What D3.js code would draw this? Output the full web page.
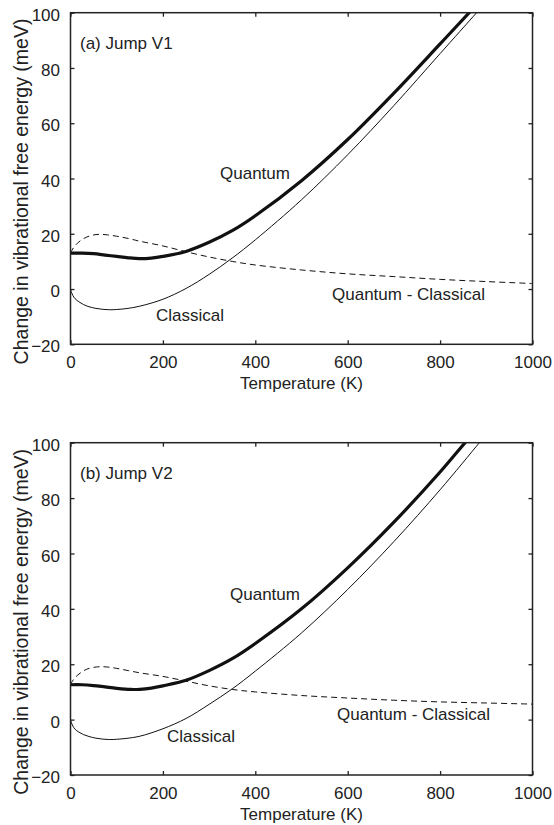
<!DOCTYPE html>
<html>
<head>
<meta charset="utf-8">
<script src="https://cdn.jsdelivr.net/npm/d3@7"></script>
<style>
  body { margin: 0; background: white; }
  text { font-family: "Liberation Sans", Arial, sans-serif; fill: #222; }
</style>
</head>
<body>
<script>
const xTicks = [0, 200, 400, 600, 800, 1000]
const yTicks = [-20, 0, 20, 40, 60, 80, 100]

// panel (a) Jump V1
const tQuantumA = [0, 25, 50, 75, 100, 125, 150, 175, 200, 250, 300, 350, 400, 500, 600, 700, 800, 863, 880]
const quantumA = [13, 13, 12.8, 12.3, 11.8, 11.3, 11, 11.2, 11.8, 13.6, 16.9, 21.1, 26.5, 39.2, 54.1, 70.9, 88.7, 100, 103]
const tClassicalA = [0, 2, 5, 10, 18, 28, 40, 55, 70, 85, 100, 120, 150, 200, 250, 300, 350, 400, 500, 600, 700, 800, 879, 900]
const classicalA = [0, -1.2, -2.3, -3.5, -4.6, -5.6, -6.4, -7.0, -7.35, -7.5, -7.4, -7.1, -6.2, -3.7, 0.2, 5.3, 11.2, 17.8, 32.3, 48.6, 66.4, 85.2, 100, 104]
const tDiffA = [0, 3, 8, 15, 25, 35, 48, 63, 80, 100, 125, 150, 200, 250, 300, 350, 400, 500, 600, 700, 800, 900, 1000]
const diffA = [13, 14, 15.3, 16.6, 17.9, 18.8, 19.5, 19.8, 19.6, 19.1, 18.3, 17.3, 15.6, 13.5, 11.6, 10.0, 8.7, 6.9, 5.5, 4.5, 3.5, 2.7, 2.0]

// panel (b) Jump V2
const tQuantumB = [0, 25, 50, 75, 100, 130, 150, 175, 200, 250, 300, 350, 400, 500, 600, 700, 800, 854, 880]
const quantumB = [12.6, 12.6, 12.3, 11.8, 11.3, 10.9, 10.95, 11.4, 12.2, 14.2, 17.7, 22.0, 27.5, 40, 54.8, 71.3, 89.4, 100, 105]
const tClassicalB = [0, 2, 5, 10, 18, 28, 40, 55, 70, 85, 100, 120, 150, 200, 250, 300, 350, 400, 500, 600, 700, 800, 885, 900]
const classicalB = [0, -1.2, -2.3, -3.5, -4.5, -5.4, -6.1, -6.7, -7.05, -7.2, -7.1, -6.8, -6, -3.3, 0.4, 5.5, 11.1, 17.5, 31.3, 47, 64.3, 83, 100, 103]
const tDiffB = [0, 3, 8, 15, 25, 35, 48, 63, 80, 100, 125, 150, 200, 250, 300, 350, 400, 500, 600, 700, 800, 900, 1000]
const diffB = [12.6, 13.6, 14.8, 16, 17.3, 18.2, 18.8, 19.1, 19, 18.5, 17.7, 16.9, 15.6, 13.9, 12.2, 10.9, 10, 8.7, 7.8, 7.0, 6.4, 6.0, 5.6]

const params = {
  width: 554,
  height: 825,
  left: 70.5,
  right: 532.5,
  fontSize: 17
}

const panels = [
  {
    top: 12.7, bottom: 344.3, title: "(a) Jump V1",
    quantum: [tQuantumA, quantumA], classical: [tClassicalA, classicalA], diff: [tDiffA, diffA],
    labels: { title: [80, 48.5], quantum: [220, 178.5], classical: [156, 320.5], diff: [332, 299.5] }
  },
  {
    top: 442.7, bottom: 775, title: "(b) Jump V2",
    quantum: [tQuantumB, quantumB], classical: [tClassicalB, classicalB], diff: [tDiffB, diffB],
    labels: { title: [80, 478.5], quantum: [230, 600], classical: [167, 742], diff: [337, 719.5] }
  }
]

const svg = d3.select("body").append("svg")
  .attr("width", params.width)
  .attr("height", params.height)

const x = d3.scaleLinear().domain([0, 1000]).range([params.left, params.right])

const toPoints = (pair) => pair[0].map((t, i) => [t, pair[1][i]])

panels.forEach((p, idx) => {
  const y = d3.scaleLinear().domain([-20, 100]).range([p.bottom, p.top])
  const g = svg.append("g")

  const clipId = `clip${idx}`
  svg.append("clipPath").attr("id", clipId)
    .append("rect")
    .attr("x", params.left)
    .attr("y", p.top)
    .attr("width", params.right - params.left)
    .attr("height", p.bottom - p.top)

  const line = d3.line()
    .x(d => x(d[0]))
    .y(d => y(d[1]))
    .curve(d3.curveCatmullRom.alpha(0.5))

  const curves = g.append("g").attr("clip-path", `url(#${clipId})`)

  curves.append("path")
    .attr("d", line(toPoints(p.diff)))
    .attr("fill", "none")
    .attr("stroke", "#111")
    .attr("stroke-width", 1)
    .attr("stroke-dasharray", "6,4")

  curves.append("path")
    .attr("d", line(toPoints(p.classical)))
    .attr("fill", "none")
    .attr("stroke", "#111")
    .attr("stroke-width", 1)

  curves.append("path")
    .attr("d", line(toPoints(p.quantum)))
    .attr("fill", "none")
    .attr("stroke", "#111")
    .attr("stroke-width", 3.2)

  const bottomAxis = g.append("g")
    .attr("transform", `translate(0,${p.bottom})`)
    .call(d3.axisBottom(x).tickValues(xTicks).tickFormat(d3.format("d")).tickSize(-4).tickSizeOuter(0).tickPadding(12))
  const leftAxis = g.append("g")
    .attr("transform", `translate(${params.left},0)`)
    .call(d3.axisLeft(y).tickValues(yTicks).tickFormat(d3.format("d")).tickSize(-4).tickSizeOuter(0).tickPadding(10.5))
  const topAxis = g.append("g")
    .attr("transform", `translate(0,${p.top})`)
    .call(d3.axisTop(x).tickValues(xTicks).tickSize(-4).tickSizeOuter(0).tickFormat(""))
  const rightAxis = g.append("g")
    .attr("transform", `translate(${params.right},0)`)
    .call(d3.axisRight(y).tickValues(yTicks).tickSize(-4).tickSizeOuter(0).tickFormat(""))

  ;[bottomAxis, leftAxis, topAxis, rightAxis].forEach(a => {
    a.select(".domain").remove()
    a.selectAll(".tick line").attr("stroke", "#222").attr("stroke-width", 1.3)
    a.selectAll(".tick text")
      .attr("font-size", params.fontSize)
      .attr("font-family", "Liberation Sans, Arial, sans-serif")
      .attr("fill", "#222")
  })
  leftAxis.selectAll(".tick text").attr("dy", "0.45em")

  g.append("rect")
    .attr("x", params.left)
    .attr("y", p.top)
    .attr("width", params.right - params.left)
    .attr("height", p.bottom - p.top)
    .attr("fill", "none")
    .attr("stroke", "#222")
    .attr("stroke-width", 1.5)

  g.append("text")
    .attr("x", (params.left + params.right) / 2)
    .attr("y", p.bottom + 44.5)
    .attr("text-anchor", "middle")
    .attr("font-size", params.fontSize)
    .text("Temperature (K)")

  g.append("text")
    .attr("transform", `translate(27.5,${(p.top + p.bottom) / 2 + 13}) rotate(-90)`)
    .attr("text-anchor", "middle")
    .attr("font-size", 19.5)
    .text("Change in vibrational free energy (meV)")

  const note = (pos, txt) => g.append("text")
    .attr("x", pos[0])
    .attr("y", pos[1])
    .attr("font-size", params.fontSize)
    .text(txt)

  note(p.labels.title, p.title)
  note(p.labels.quantum, "Quantum")
  note(p.labels.classical, "Classical")
  note(p.labels.diff, "Quantum - Classical")
})
</script>
</body>
</html>
